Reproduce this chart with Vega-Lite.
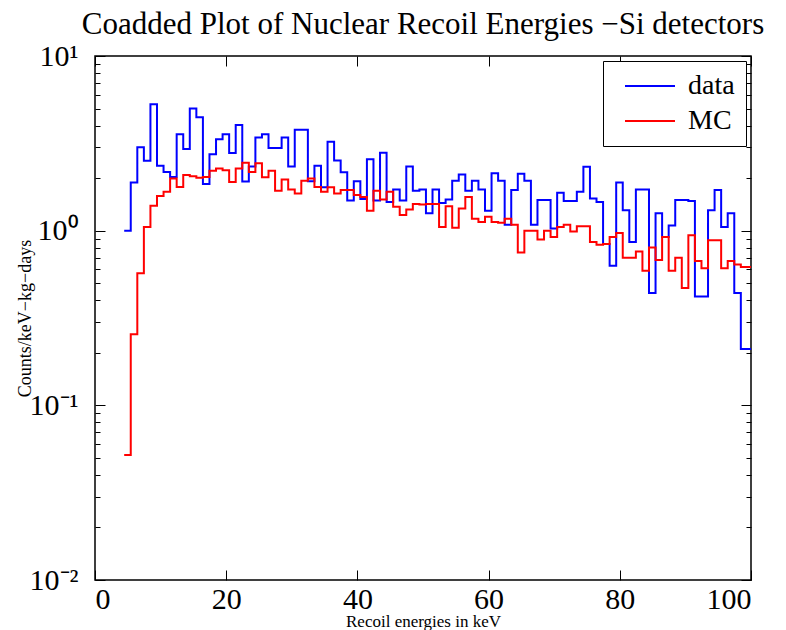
{
"$schema": "https://vega.github.io/schema/vega-lite/v6.json",
"width": 656, "height": 524,
"autosize": {"type": "none"},
"padding": {"left": 95, "top": 56, "right": 35, "bottom": 50},
"background": "white",
"title": {"text": "Coadded Plot of Nuclear Recoil Energies −Si detectors", "font": "Liberation Serif", "fontSize": 31, "fontWeight": "normal", "color": "black", "offset": 0, "anchor": "middle"},
"config": {"view": {"stroke": "black", "strokeWidth": 1.5}, "axis": {"grid": false, "domain": false, "tickColor": "black", "labelColor": "black", "titleColor": "black", "labelFont": "Liberation Serif", "titleFont": "Liberation Serif", "titleFontWeight": "normal"}},
"data": {"values": [
{"e":4.45,"v":1.0,"s":"data"},{"e":5.45,"v":1.89,"s":"data"},{"e":6.45,"v":3.0,"s":"data"},{"e":7.45,"v":2.51,"s":"data"},{"e":8.45,"v":5.3,"s":"data"},{"e":9.45,"v":2.35,"s":"data"},{"e":10.45,"v":2.17,"s":"data"},{"e":11.45,"v":2.03,"s":"data"},{"e":12.45,"v":3.57,"s":"data"},{"e":13.45,"v":2.93,"s":"data"},
{"e":14.45,"v":5.0,"s":"data"},{"e":15.45,"v":4.46,"s":"data"},{"e":16.45,"v":1.85,"s":"data"},{"e":17.45,"v":2.74,"s":"data"},{"e":18.45,"v":3.34,"s":"data"},{"e":19.45,"v":3.57,"s":"data"},{"e":20.45,"v":2.78,"s":"data"},{"e":21.45,"v":4.03,"s":"data"},{"e":22.45,"v":1.91,"s":"data"},{"e":23.45,"v":2.33,"s":"data"},
{"e":24.45,"v":3.42,"s":"data"},{"e":25.45,"v":3.57,"s":"data"},{"e":26.45,"v":2.97,"s":"data"},{"e":27.45,"v":2.97,"s":"data"},{"e":28.45,"v":3.42,"s":"data"},{"e":29.45,"v":2.33,"s":"data"},{"e":30.45,"v":3.78,"s":"data"},{"e":31.45,"v":3.78,"s":"data"},{"e":32.45,"v":1.92,"s":"data"},{"e":33.45,"v":2.35,"s":"data"},
{"e":34.45,"v":1.77,"s":"data"},{"e":35.45,"v":3.23,"s":"data"},{"e":36.45,"v":2.52,"s":"data"},{"e":37.45,"v":2.16,"s":"data"},{"e":38.45,"v":1.49,"s":"data"},{"e":39.45,"v":1.92,"s":"data"},{"e":40.45,"v":1.52,"s":"data"},{"e":41.45,"v":2.56,"s":"data"},{"e":42.45,"v":1.49,"s":"data"},{"e":43.45,"v":2.79,"s":"data"},
{"e":44.45,"v":1.46,"s":"data"},{"e":45.45,"v":1.72,"s":"data"},{"e":46.45,"v":1.49,"s":"data"},{"e":47.45,"v":2.33,"s":"data"},{"e":48.45,"v":1.69,"s":"data"},{"e":49.45,"v":1.72,"s":"data"},{"e":50.45,"v":1.26,"s":"data"},{"e":51.45,"v":1.72,"s":"data"},{"e":52.45,"v":1.44,"s":"data"},{"e":53.45,"v":1.51,"s":"data"},
{"e":54.45,"v":1.93,"s":"data"},{"e":55.45,"v":2.10,"s":"data"},{"e":56.45,"v":1.69,"s":"data"},{"e":57.45,"v":1.93,"s":"data"},{"e":58.45,"v":1.72,"s":"data"},{"e":59.45,"v":1.30,"s":"data"},{"e":60.45,"v":2.13,"s":"data"},{"e":61.45,"v":1.93,"s":"data"},{"e":62.45,"v":1.08,"s":"data"},{"e":63.45,"v":1.71,"s":"data"},
{"e":64.45,"v":2.12,"s":"data"},{"e":65.45,"v":1.93,"s":"data"},{"e":66.45,"v":1.08,"s":"data"},{"e":67.45,"v":1.50,"s":"data"},{"e":68.45,"v":1.50,"s":"data"},{"e":69.45,"v":1.03,"s":"data"},{"e":70.45,"v":1.65,"s":"data"},{"e":71.45,"v":1.48,"s":"data"},{"e":72.45,"v":1.48,"s":"data"},{"e":73.45,"v":1.67,"s":"data"},
{"e":74.45,"v":2.32,"s":"data"},{"e":75.45,"v":1.53,"s":"data"},{"e":76.45,"v":1.46,"s":"data"},{"e":77.45,"v":0.84,"s":"data"},{"e":78.45,"v":0.63,"s":"data"},{"e":79.45,"v":1.89,"s":"data"},{"e":80.45,"v":1.31,"s":"data"},{"e":81.45,"v":0.86,"s":"data"},{"e":82.45,"v":1.72,"s":"data"},{"e":83.45,"v":1.72,"s":"data"},
{"e":84.45,"v":0.44,"s":"data"},{"e":85.45,"v":1.26,"s":"data"},{"e":86.45,"v":0.92,"s":"data"},{"e":87.45,"v":1.07,"s":"data"},{"e":88.45,"v":1.5,"s":"data"},{"e":89.45,"v":1.5,"s":"data"},{"e":90.45,"v":1.48,"s":"data"},{"e":91.45,"v":0.42,"s":"data"},{"e":92.45,"v":0.42,"s":"data"},{"e":93.45,"v":1.31,"s":"data"},
{"e":94.45,"v":1.71,"s":"data"},{"e":95.45,"v":1.05,"s":"data"},{"e":96.45,"v":1.26,"s":"data"},{"e":97.45,"v":0.44,"s":"data"},{"e":98.45,"v":0.21,"s":"data"},{"e":99.45,"v":0.21,"s":"data"},{"e":100,"v":0.21,"s":"data"},
{"e":4.45,"v":0.052,"s":"MC"},{"e":5.45,"v":0.255,"s":"MC"},{"e":6.45,"v":0.57,"s":"MC"},{"e":7.45,"v":1.05,"s":"MC"},{"e":8.45,"v":1.39,"s":"MC"},{"e":9.45,"v":1.58,"s":"MC"},{"e":10.45,"v":1.67,"s":"MC"},{"e":11.45,"v":1.99,"s":"MC"},{"e":12.45,"v":1.78,"s":"MC"},{"e":13.45,"v":2.08,"s":"MC"},
{"e":14.45,"v":2.05,"s":"MC"},{"e":15.45,"v":2.01,"s":"MC"},{"e":16.45,"v":2.03,"s":"MC"},{"e":17.45,"v":2.20,"s":"MC"},{"e":18.45,"v":2.27,"s":"MC"},{"e":19.45,"v":2.22,"s":"MC"},{"e":20.45,"v":1.90,"s":"MC"},{"e":21.45,"v":2.27,"s":"MC"},{"e":22.45,"v":2.45,"s":"MC"},{"e":23.45,"v":2.17,"s":"MC"},
{"e":24.45,"v":2.43,"s":"MC"},{"e":25.45,"v":2.02,"s":"MC"},{"e":26.45,"v":2.20,"s":"MC"},{"e":27.45,"v":1.69,"s":"MC"},{"e":28.45,"v":1.96,"s":"MC"},{"e":29.45,"v":1.72,"s":"MC"},{"e":30.45,"v":1.63,"s":"MC"},{"e":31.45,"v":1.93,"s":"MC"},{"e":32.45,"v":1.99,"s":"MC"},{"e":33.45,"v":1.78,"s":"MC"},
{"e":34.45,"v":1.67,"s":"MC"},{"e":35.45,"v":1.77,"s":"MC"},{"e":36.45,"v":1.63,"s":"MC"},{"e":37.45,"v":1.71,"s":"MC"},{"e":38.45,"v":1.71,"s":"MC"},{"e":39.45,"v":1.60,"s":"MC"},{"e":40.45,"v":1.56,"s":"MC"},{"e":41.45,"v":1.30,"s":"MC"},{"e":42.45,"v":1.69,"s":"MC"},{"e":43.45,"v":1.51,"s":"MC"},
{"e":44.45,"v":1.67,"s":"MC"},{"e":45.45,"v":1.37,"s":"MC"},{"e":46.45,"v":1.23,"s":"MC"},{"e":47.45,"v":1.32,"s":"MC"},{"e":48.45,"v":1.42,"s":"MC"},{"e":49.45,"v":1.41,"s":"MC"},{"e":50.45,"v":1.42,"s":"MC"},{"e":51.45,"v":1.42,"s":"MC"},{"e":52.45,"v":1.05,"s":"MC"},{"e":53.45,"v":1.38,"s":"MC"},
{"e":54.45,"v":1.04,"s":"MC"},{"e":55.45,"v":1.34,"s":"MC"},{"e":56.45,"v":1.56,"s":"MC"},{"e":57.45,"v":1.17,"s":"MC"},{"e":58.45,"v":1.12,"s":"MC"},{"e":59.45,"v":1.20,"s":"MC"},{"e":60.45,"v":1.12,"s":"MC"},{"e":61.45,"v":1.11,"s":"MC"},{"e":62.45,"v":1.17,"s":"MC"},{"e":63.45,"v":1.08,"s":"MC"},
{"e":64.45,"v":0.75,"s":"MC"},{"e":65.45,"v":1.0,"s":"MC"},{"e":66.45,"v":1.0,"s":"MC"},{"e":67.45,"v":0.89,"s":"MC"},{"e":68.45,"v":1.0,"s":"MC"},{"e":69.45,"v":0.92,"s":"MC"},{"e":70.45,"v":1.05,"s":"MC"},{"e":71.45,"v":1.08,"s":"MC"},{"e":72.45,"v":0.99,"s":"MC"},{"e":73.45,"v":1.06,"s":"MC"},
{"e":74.45,"v":1.06,"s":"MC"},{"e":75.45,"v":0.86,"s":"MC"},{"e":76.45,"v":0.83,"s":"MC"},{"e":77.45,"v":0.84,"s":"MC"},{"e":78.45,"v":0.92,"s":"MC"},{"e":79.45,"v":0.97,"s":"MC"},{"e":80.45,"v":0.70,"s":"MC"},{"e":81.45,"v":0.70,"s":"MC"},{"e":82.45,"v":0.76,"s":"MC"},{"e":83.45,"v":0.59,"s":"MC"},
{"e":84.45,"v":0.80,"s":"MC"},{"e":85.45,"v":0.68,"s":"MC"},{"e":86.45,"v":0.92,"s":"MC"},{"e":87.45,"v":0.59,"s":"MC"},{"e":88.45,"v":0.70,"s":"MC"},{"e":89.45,"v":0.47,"s":"MC"},{"e":90.45,"v":0.94,"s":"MC"},{"e":91.45,"v":0.67,"s":"MC"},{"e":92.45,"v":0.61,"s":"MC"},{"e":93.45,"v":0.88,"s":"MC"},
{"e":94.45,"v":0.88,"s":"MC"},{"e":95.45,"v":0.61,"s":"MC"},{"e":96.45,"v":0.67,"s":"MC"},{"e":97.45,"v":0.64,"s":"MC"},{"e":98.45,"v":0.62,"s":"MC"},{"e":99.45,"v":0.62,"s":"MC"},{"e":100,"v":0.62,"s":"MC"}
]},
"layer": [
{"mark": {"type": "line", "interpolate": "step-after", "strokeWidth": 2},
 "encoding": {
  "x": {"field": "e", "type": "quantitative", "scale": {"domain": [0, 100], "nice": false, "zero": false},
        "axis": {"orient": "bottom", "values": [0,20,40,60,80,100], "tickSize": -10, "labelFontSize": 30, "labelPadding": 14, "title": "Recoil energies in keV", "titleFontSize": 17, "titlePadding": -1}},
  "y": {"field": "v", "type": "quantitative", "scale": {"type": "log", "domain": [0.01, 10], "nice": false},
        "axis": {"orient": "left", "values": [0.01,0.02,0.03,0.04,0.05,0.06,0.07,0.08,0.09,0.1,0.2,0.3,0.4,0.5,0.6,0.7,0.8,0.9,1,2,3,4,5,6,7,8,9,10],
                 "tickSize": {"condition": {"test": "datum.value == 0.01 || datum.value == 0.1 || datum.value == 1 || datum.value == 10", "value": -10}, "value": -5},
                 "labelExpr": "datum.value == 10 ? '10¹' : datum.value == 1 ? '10⁰' : datum.value == 0.1 ? '10⁻¹' : datum.value == 0.01 ? '10⁻²' : ''",
                 "labelFontSize": 30, "labelPadding": 27, "title": "Counts/keV−kg−days", "titleFontSize": 18, "titlePadding": -5}},
  "color": {"field": "s", "type": "nominal", "scale": {"domain": ["data", "MC"], "range": ["#0000ff", "#ff0000"]},
            "legend": {"title": null, "orient": "top-right", "offset": 5, "strokeColor": "black", "fillColor": "white", "padding": 11, "symbolType": "M-2,0H2", "symbolSize": 625, "symbolStrokeWidth": 2, "symbolOffset": 22, "labelFont": "Liberation Serif", "labelFontSize": 28, "labelColor": "black", "rowPadding": 7, "labelOffset": 24, "cornerRadius": 0}}
 }},
{"mark": {"type": "line", "opacity": 0},
 "encoding": {
  "x": {"field": "e", "type": "quantitative", "axis": {"orient": "top", "values": [0,20,40,60,80,100], "tickSize": -10, "labels": false, "title": null}},
  "y": {"field": "v", "type": "quantitative",
        "axis": {"orient": "right", "values": [0.01,0.02,0.03,0.04,0.05,0.06,0.07,0.08,0.09,0.1,0.2,0.3,0.4,0.5,0.6,0.7,0.8,0.9,1,2,3,4,5,6,7,8,9,10],
                 "tickSize": {"condition": {"test": "datum.value == 0.01 || datum.value == 0.1 || datum.value == 1 || datum.value == 10", "value": -10}, "value": -5},
                 "labels": false, "title": null}},
  "detail": {"field": "s"}
 }}
],
"resolve": {"axis": {"x": "independent", "y": "independent"}}
}
